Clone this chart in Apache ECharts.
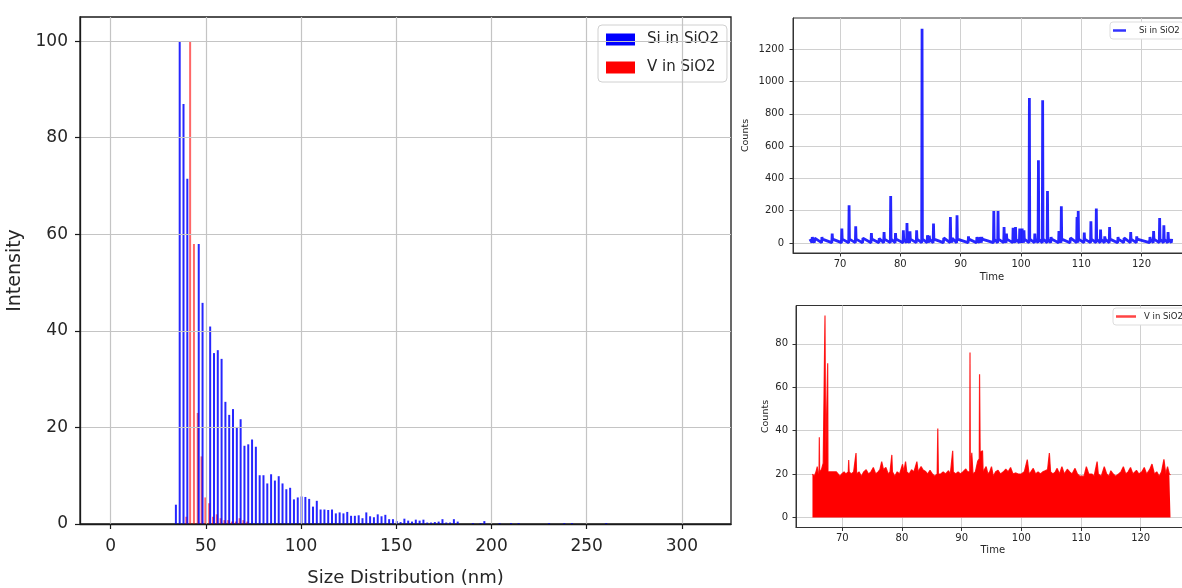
<!DOCTYPE html>
<html><head><meta charset="utf-8">
<script src="https://cdn.jsdelivr.net/npm/echarts@6/dist/echarts.min.js"></script>
<style>html,body{margin:0;padding:0;background:#fff}#c{width:1182px;height:588px}</style>
</head><body><div id="c"></div>
<script>
// ---- Size distribution histogram (left) ----
const sizeSi = [34,36,38,40,46,48,52,54,56,58,60,62,64,66,68,70,72,74,76,78,80,82,84,86,88,90,92,94,96,98,100,102,104,106,108,110,112,114,116,118,120,122,124,126,128,130,132,134,136,138,140,142,144,146,148,150,152,154,156,158,160,162,164,166,168,170,172,174,176,178,180,182,190,194,196,204,210,214,230,238,242,260];
const intensitySi = [4,100,87,71.5,58,45.8,40.9,35.4,36,34.2,25.3,22.6,23.8,20.1,21.7,16.2,16.5,17.5,16,10.1,10.1,8.4,10.3,9,9.9,8.4,7.2,7.5,5.1,5.5,5.7,5.6,5.2,3.6,4.8,3,3,2.9,3,2.2,2.4,2.2,2.5,1.7,1.7,1.8,1.2,2.4,1.6,1.4,2,1.6,1.9,1,1,0.6,0.4,1.1,0.7,0.5,0.9,0.7,0.9,0.3,0.3,0.4,0.5,1,0.3,0.3,1,0.5,0.2,0.2,0.6,0.2,0.2,0.2,0.2,0.2,0.2,0.2];
const sizeV = [40,42,44,46,48,50,52,54,56,58,60,62,64,66,68,70,72];
const intensityV = [1.5,100,58,23,14,5.5,4.3,1.5,2,1.2,0.8,0.8,0.5,0.5,1.2,0.8,0.5];
const sizeTicks = [0,50,100,150,200,250,300];
const intensityTicks = [0,20,40,60,80,100];

// ---- Si time trace (top right) ----
const siSpikeTime  = [65.4,65.8,67.0,68.7,70.3,71.5,72.6,73.8,75.2,76.5,77.3,78.4,79.2,80.5,81.1,81.6,82.7,83.6,84.5,84.8,85.5,87.2,88.3,88.6,89.4,91.3,92.7,93.2,93.5,95.5,96.2,97.2,97.6,98.7,99.1,99.8,100.2,100.5,101.4,102.3,102.9,103.6,104.4,105.0,106.3,106.7,108.2,109.3,109.5,110.5,111.6,112.5,113.2,113.9,114.7,116.1,117.1,118.2,119.2,121.4,122.0,123.0,123.7,124.4,125.0];
const siSpikeCount = [37,30,37,58,89,233,103,30,62,28,68,291,62,79,124,72,79,1327,48,45,120,31,161,30,171,41,37,37,37,198,198,99,58,95,99,89,89,79,898,58,512,884,322,37,74,227,31,161,198,64,134,213,83,41,99,37,31,68,41,37,74,155,110,68,25];
const siBaseLow = 2, siBaseHigh = 24;
const siCountTicks = [0,200,400,600,800,1000,1200];

// ---- V time trace (bottom right): top envelope of the dense signal ----
const vTime  = [65.0,65.3,65.6,65.8,65.95,66.1,66.15,66.2,66.5,66.8,67.05,67.1,67.2,67.5,67.55,67.6,68.0,68.5,69.0,69.3,69.6,69.9,70.3,70.6,71.0,71.07,71.15,71.5,71.9,72.3,72.4,72.8,73.2,73.6,74.0,74.4,74.8,75.2,75.6,76.0,76.3,76.6,76.9,77.3,77.7,78.0,78.3,78.4,78.8,79.2,79.6,80.1,80.3,80.6,80.8,81.2,81.6,82.0,82.5,82.7,83.2,83.5,84.0,84.3,84.7,85.1,85.5,85.9,86.0,86.1,86.5,86.9,87.3,87.8,88.1,88.5,88.6,89.0,89.4,89.8,90.2,90.7,91.0,91.35,91.4,91.45,91.7,91.9,92.3,92.7,92.95,93.0,93.1,93.3,93.5,93.6,94.1,94.4,94.7,95.0,95.3,95.7,96.1,96.5,97.0,97.4,97.8,98.2,98.6,99.0,99.5,100.0,100.5,101.0,101.3,101.6,102.0,102.4,102.8,103.2,103.6,104.0,104.4,104.7,104.9,105.3,105.7,106.0,106.4,106.8,107.2,107.7,108.1,108.5,109.0,109.4,109.8,110.1,110.5,110.9,111.3,111.8,112.2,112.7,112.9,113.4,113.9,114.3,114.7,115.0,115.4,115.8,116.3,116.7,117.1,117.5,117.9,118.3,118.7,119.3,119.7,120.2,120.6,121.0,121.5,121.9,122.3,122.7,123.1,123.5,123.9,124.2,124.5,124.8,125.0];
const vCount = [20,19,21,23.4,20,21,36.9,21,22,25,25,93,25,25,71,21,21,21,21,21,19,20,21,20,21,26.5,21,20,21,29.7,20,21,19,21,22,20,21,23,20,21,22,25.7,22,23,20,21,28.8,21,19,21,20,24.5,21,25.7,21,20,22,21,25.7,21,23.4,22,21,20,21.7,20,19,20,41,20,20,21,20,21.5,20,30.7,21,20,21,20,21,22.3,21,21,76,22,29.8,20,21,26,27,66,30,30.7,30.7,21,23.4,20,21,23.4,19,21,21.7,20,21,22.2,21,23,20,20.5,20,20,21,26.6,20,21,22.6,20,21,20,21,21.5,22,29.7,21,20,21,22.6,20,23.4,20,22.2,21,20,22.6,20,19,18.1,19,23.4,20,20,19,25.7,20,19,23.4,20,19,21.5,20,19,20,21,23.4,20,21,23,20,21.7,20,21,23,20,22,24.6,20,21,19,21,26.8,20,23.4,20,19.6];
const timeTicks = [70,80,90,100,110,120];
const vCountTicks = [0,20,40,60,80];

// ---- build series data ----
const siBars = sizeSi.map((s,i)=>[s, intensitySi[i]]);
const vBars = sizeV.map((s,i)=>[s, intensityV[i]]);
const siLine = [[65.0, siBaseHigh]];
siSpikeTime.forEach((t,i)=>{ siLine.push([t-0.06, siBaseLow],[t, siSpikeCount[i]],[t+0.06, siBaseHigh]); });
const vLine = vTime.map((t,i)=>[t, vCount[i]]);

const FONT = 'DejaVu Sans';
const TXT = '#262626';
const SQ = 'path://M0,0L10,0L10,10L0,10Z';
function mk(values, mod){ return v => (Math.abs(v % mod) < 1e-6 ? String(v) : ''); }

const chart = echarts.init(document.getElementById('c'), null, {renderer:'canvas'});
chart.setOption({
  animation:false,
  backgroundColor:'#ffffff',
  textStyle:{fontFamily:FONT},
  grid:[
    {left:80, top:17, width:651, height:507, show:true, borderColor:'#1a1a1a', borderWidth:1.3, outerBoundsMode:'none', containLabel:false},
    {left:793, top:18, width:398, height:235, show:true, borderColor:'#333', borderWidth:1, outerBoundsMode:'none', containLabel:false},
    {left:796, top:305.5, width:393.6, height:222, show:true, borderColor:'#333', borderWidth:1, outerBoundsMode:'none', containLabel:false}
  ],
  legend:[
    {data:[{name:'Si in SiO2', icon:SQ, itemStyle:{color:'#0000ff', opacity:1, borderWidth:0}},{name:'V in SiO2', icon:SQ, itemStyle:{color:'#ff0000', opacity:1, borderWidth:0}}],
     symbolKeepAspect:false,
     orient:'vertical', left:598, top:25, itemWidth:29, itemHeight:12, itemGap:13,
     padding:[7,8,7,8], borderColor:'#d0d0d0', borderWidth:1, borderRadius:4, backgroundColor:'rgba(255,255,255,0.85)',
     textStyle:{fontSize:15, color:TXT, fontFamily:FONT, padding:[0,0,0,7]}},
    {data:[{name:'Si time', icon:SQ, itemStyle:{color:'#3333ff', opacity:1}}], formatter:()=> 'Si in SiO2',
     symbolKeepAspect:false,
     left:1110, top:22, itemWidth:13, itemHeight:2.5,
     padding:[4,4,4,3], borderColor:'#dddddd', borderWidth:1, borderRadius:3, backgroundColor:'#fff',
     textStyle:{fontSize:8.5, color:TXT, fontFamily:FONT, padding:[0,0,0,8]}},
    {data:[{name:'V time', icon:SQ, itemStyle:{color:'#ff4444', opacity:1}}], formatter:()=> 'V in SiO2',
     symbolKeepAspect:false,
     left:1113, top:308, itemWidth:20, itemHeight:2.5,
     padding:[4,4,4,3], borderColor:'#dddddd', borderWidth:1, borderRadius:3, backgroundColor:'#fff',
     textStyle:{fontSize:8.5, color:TXT, fontFamily:FONT, padding:[0,0,0,3]}}
  ],
  xAxis:[
    {gridIndex:0, type:'value', min:-16.1, max:325.8, z:5,
     axisLine:{show:true, onZero:false, lineStyle:{color:'#1a1a1a', width:1.3}},
     axisTick:{show:true, customValues:sizeTicks, length:5, lineStyle:{color:'#1a1a1a', width:1.2}},
     axisLabel:{customValues:sizeTicks, formatter:mk(sizeTicks,50), fontSize:17, color:TXT, margin:14, fontFamily:FONT},
     splitLine:{show:true, lineStyle:{color:'#c4c4c4', width:1.2}},
     name:'Size Distribution (nm)', nameLocation:'middle', nameGap:45,
     nameTextStyle:{fontSize:18, color:TXT, fontFamily:FONT}},
    {gridIndex:1, type:'value', min:62.2, max:128.2,
     axisLine:{show:true, onZero:false, lineStyle:{color:'#333'}},
     axisTick:{show:true, customValues:timeTicks, length:3.5, lineStyle:{color:'#333'}},
     axisLabel:{customValues:timeTicks, formatter:mk(timeTicks,10), fontSize:10, color:TXT, margin:6, fontFamily:FONT},
     splitLine:{show:true, lineStyle:{color:'#d0d0d0', width:1}},
     name:'Time', nameLocation:'middle', nameGap:19, nameTextStyle:{fontSize:10, color:TXT, fontFamily:FONT}},
    {gridIndex:2, type:'value', min:62.24, max:128.2,
     axisLine:{show:true, onZero:false, lineStyle:{color:'#333'}},
     axisTick:{show:true, customValues:timeTicks, length:3.5, lineStyle:{color:'#333'}},
     axisLabel:{customValues:timeTicks, formatter:mk(timeTicks,10), fontSize:10, color:TXT, margin:6, fontFamily:FONT},
     splitLine:{show:true, lineStyle:{color:'#d0d0d0', width:1}},
     name:'Time', nameLocation:'middle', nameGap:18, nameTextStyle:{fontSize:10, color:TXT, fontFamily:FONT}}
  ],
  yAxis:[
    {gridIndex:0, type:'value', min:0, max:105, z:5,
     axisLine:{show:true, onZero:false, lineStyle:{color:'#1a1a1a', width:1.3}},
     axisTick:{show:true, customValues:intensityTicks, length:5, lineStyle:{color:'#1a1a1a', width:1.2}},
     axisLabel:{customValues:intensityTicks, formatter:mk(intensityTicks,20), fontSize:17, color:TXT, margin:12, fontFamily:FONT},
     splitLine:{show:true, lineStyle:{color:'#c4c4c4', width:1.2}},
     name:'Intensity', nameLocation:'middle', nameGap:50,
     nameTextStyle:{fontSize:19, color:TXT, fontFamily:FONT}},
    {gridIndex:1, type:'value', min:-62, max:1394,
     axisLine:{show:true, onZero:false, lineStyle:{color:'#333'}},
     axisTick:{show:true, customValues:siCountTicks, length:3.5, lineStyle:{color:'#333'}},
     axisLabel:{customValues:siCountTicks, formatter:mk(siCountTicks,200), fontSize:10, color:TXT, margin:9, fontFamily:FONT},
     splitLine:{show:true, lineStyle:{color:'#d0d0d0', width:1}},
     name:'Counts', nameLocation:'middle', nameGap:42, nameTextStyle:{fontSize:9.5, color:TXT, fontFamily:FONT}},
    {gridIndex:2, type:'value', min:-4.65, max:97.65,
     axisLine:{show:true, onZero:false, lineStyle:{color:'#333'}},
     axisTick:{show:true, customValues:vCountTicks, length:3.5, lineStyle:{color:'#333'}},
     axisLabel:{customValues:vCountTicks, formatter:mk(vCountTicks,20), fontSize:10, color:TXT, margin:8, fontFamily:FONT},
     splitLine:{show:true, lineStyle:{color:'#d0d0d0', width:1}},
     name:'Counts', nameLocation:'middle', nameGap:25, nameTextStyle:{fontSize:9.5, color:TXT, fontFamily:FONT}}
  ],
  series:[
    {name:'V in SiO2', type:'bar', xAxisIndex:0, yAxisIndex:0, data:vBars, barWidth:2, barGap:'-50%',
     itemStyle:{color:'#ff0000', opacity:0.6}},
    {name:'Si in SiO2', type:'bar', xAxisIndex:0, yAxisIndex:0, data:siBars, barWidth:2, barGap:'-50%',
     itemStyle:{color:'#0000ff', opacity:0.85}},
    {name:'Si time', type:'line', xAxisIndex:1, yAxisIndex:1, data:siLine, showSymbol:false, symbol:'none',
     lineStyle:{color:'#0000ff', width:2.8, opacity:0.85}, clip:true},
    {name:'V time', type:'line', xAxisIndex:2, yAxisIndex:2, data:vLine, showSymbol:false, symbol:'none',
     lineStyle:{color:'#ff0000', width:1.2, opacity:0.85}, areaStyle:{color:'#ff0000', opacity:1}, clip:true}
  ]
});
</script>
</body></html>
